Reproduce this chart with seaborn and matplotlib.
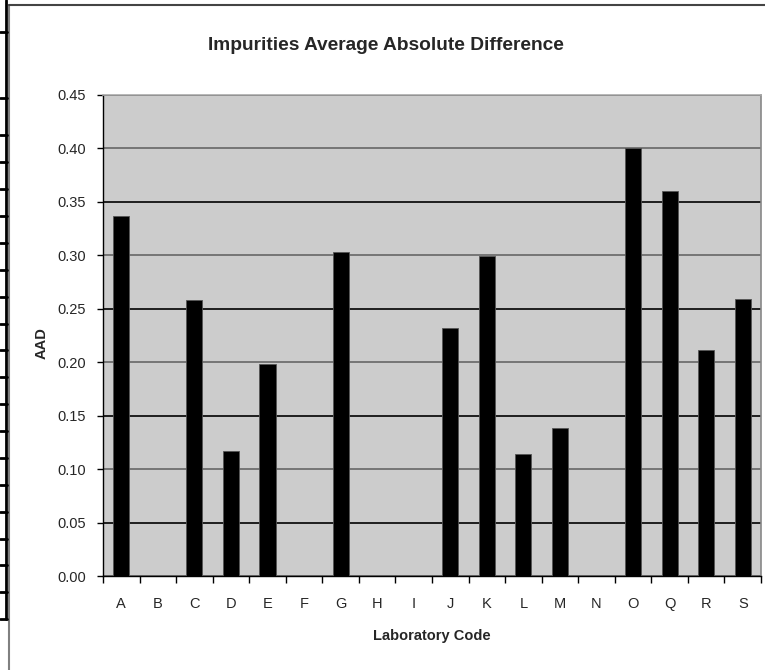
import numpy as np
import pandas as pd
import matplotlib.pyplot as plt
import seaborn as sns
from matplotlib.lines import Line2D

# data
labs = ['A', 'B', 'C', 'D', 'E', 'F', 'G', 'H', 'I', 'J', 'K', 'L', 'M', 'N', 'O', 'Q', 'R', 'S']
aad = [0.337, 0.0, 0.258, 0.117, 0.198, 0.0, 0.303, 0.0, 0.0, 0.232, 0.299, 0.114, 0.138, 0.0, 0.400, 0.360, 0.211, 0.259]
yticks = [0.00, 0.05, 0.10, 0.15, 0.20, 0.25, 0.30, 0.35, 0.40, 0.45]

df = pd.DataFrame({'code': labs, 'aad': aad})

sns.set_style("white")
plt.rcParams['font.family'] = ['Liberation Sans', 'DejaVu Sans']

W, H = 765, 670
fig = plt.figure(figsize=(W / 100, H / 100), dpi=100)
ax = fig.add_axes([103 / W, 1 - 576 / H, (761 - 103) / W, (576 - 95) / H])
ax.set_facecolor('#cccccc')

sns.barplot(data=df, x='code', y='aad', color='black', width=0.44, ax=ax,
            edgecolor='#555555', linewidth=0.6, saturation=1, zorder=3)

ax.set_xlim(-0.5, len(labs) - 0.5)
ax.set_ylim(0, 0.45)
ax.set_yticks(yticks)
ax.set_yticklabels([f'{v:.2f}' for v in yticks], fontsize=10.5)
ax.set_xticks(range(len(labs)))
ax.set_xticklabels(labs, fontsize=10.5)
ax.set_xticks(np.arange(-0.5, len(labs), 1), minor=True)
ax.tick_params(axis='x', which='major', length=0, pad=15)
ax.tick_params(axis='x', which='minor', length=5, width=1, color='black', direction='out', bottom=True)
ax.tick_params(axis='y', which='major', length=4, width=1, color='black', direction='out', pad=8, left=True)
ax.set_xlabel('')
ax.set_ylabel('')

# horizontal gridlines
ax.grid(axis='y', color='black', linewidth=1.2, zorder=1)
ax.set_axisbelow(True)
for i, gl in enumerate(ax.get_ygridlines()):
    gl.set_color('#666666' if i % 2 == 0 else 'black')

for s in ['left', 'bottom']:
    ax.spines[s].set_color('black')
    ax.spines[s].set_linewidth(1)
ax.spines['top'].set_color('#aaaaaa')
ax.spines['right'].set_color('#888888')
ax.spines['top'].set_linewidth(1.2)
ax.spines['right'].set_linewidth(1.2)

fig.text(386 / W, 1 - 45 / H, 'Impurities Average Absolute Difference',
         ha='center', va='center', fontsize=13.8, fontweight='bold')
fig.text(432 / W, 1 - 636 / H, 'Laboratory Code', ha='center', va='center',
         fontsize=10.5, fontweight='bold')
fig.text(42 / W, 1 - 343 / H, 'AAD', ha='center', va='center', rotation=90,
         fontsize=10.5, fontweight='bold')

# chart frame and spreadsheet edge on the left
fig.add_artist(Line2D([8.5 / W, 8.5 / W], [0, 1 - 5 / H], color='#808080', lw=1.5))
fig.add_artist(Line2D([8.5 / W, 1], [1 - 5 / H, 1 - 5 / H], color='#444444', lw=1.5))
fig.add_artist(Line2D([6 / W, 6 / W], [1, 1 - 619 / H], color='black', lw=2))
for yy in [32, 98, 135, 162, 189, 216, 243, 270, 297, 324, 350, 377, 404, 431,
           458, 485, 512, 539, 565, 592, 619]:
    fig.add_artist(Line2D([0, 7 / W], [1 - yy / H, 1 - yy / H], color='black', lw=2))

plt.savefig('out.png', dpi=100)
